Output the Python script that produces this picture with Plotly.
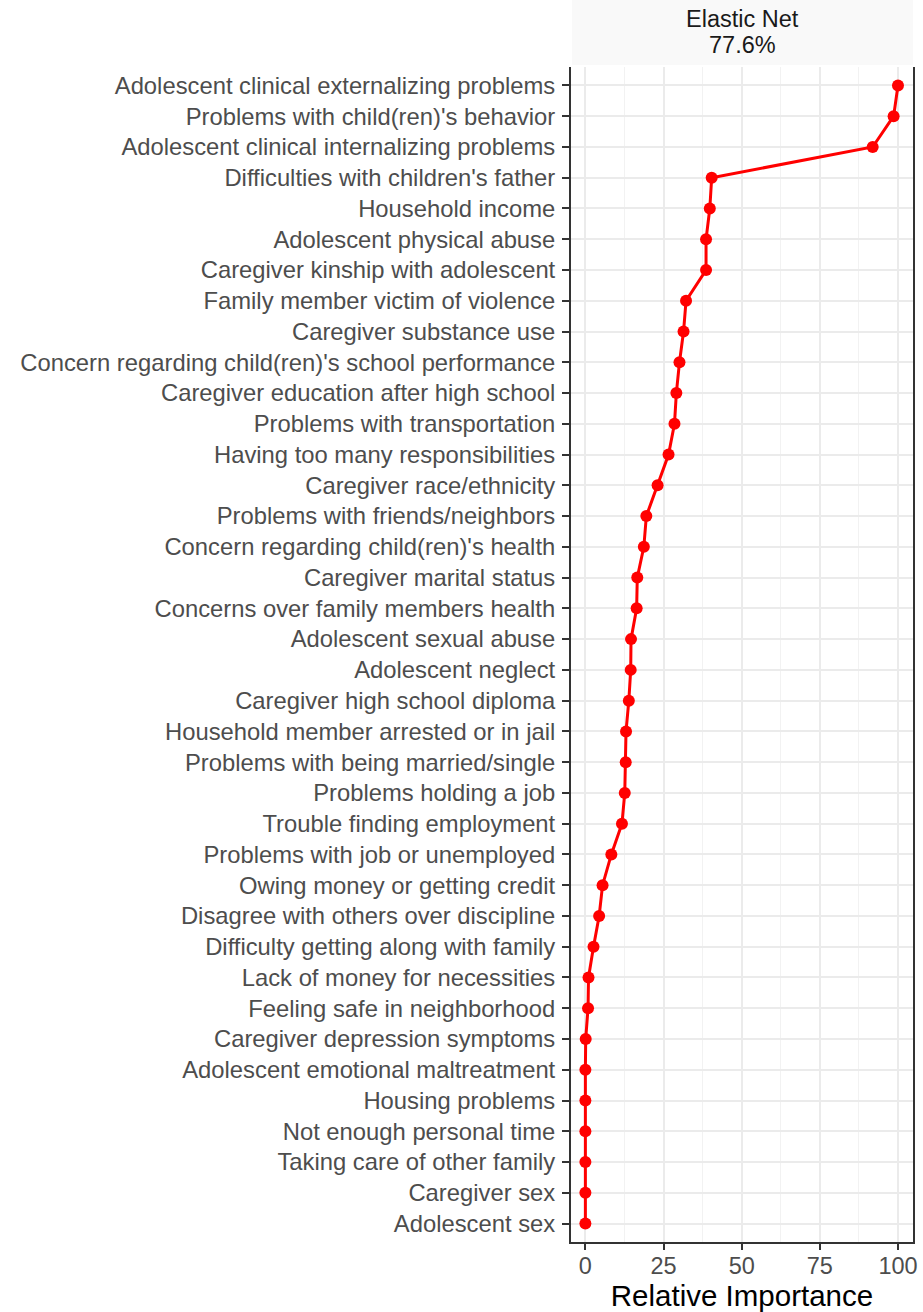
import plotly.graph_objects as go

features = [
    "Adolescent clinical externalizing problems",
    "Problems with child(ren)'s behavior",
    "Adolescent clinical internalizing problems",
    "Difficulties with children's father",
    "Household income",
    "Adolescent physical abuse",
    "Caregiver kinship with adolescent",
    "Family member victim of violence",
    "Caregiver substance use",
    "Concern regarding child(ren)'s school performance",
    "Caregiver education after high school",
    "Problems with transportation",
    "Having too many responsibilities",
    "Caregiver race/ethnicity",
    "Problems with friends/neighbors",
    "Concern regarding child(ren)'s health",
    "Caregiver marital status",
    "Concerns over family members health",
    "Adolescent sexual abuse",
    "Adolescent neglect",
    "Caregiver high school diploma",
    "Household member arrested or in jail",
    "Problems with being married/single",
    "Problems holding a job",
    "Trouble finding employment",
    "Problems with job or unemployed",
    "Owing money or getting credit",
    "Disagree with others over discipline",
    "Difficulty getting along with family",
    "Lack of money for necessities",
    "Feeling safe in neighborhood",
    "Caregiver depression symptoms",
    "Adolescent emotional maltreatment",
    "Housing problems",
    "Not enough personal time",
    "Taking care of other family",
    "Caregiver sex",
    "Adolescent sex",
]

importance = [
    100.0, 98.6, 91.9, 40.4, 39.8, 38.6, 38.6, 32.2, 31.4, 30.1,
    29.1, 28.5, 26.6, 23.1, 19.5, 18.7, 16.6, 16.4, 14.6, 14.5,
    13.9, 13.0, 12.9, 12.6, 11.7, 8.3, 5.5, 4.4, 2.6, 1.0,
    0.85, 0.1, 0.0, 0.0, 0.0, 0.0, 0.0, 0.0,
]

panel_title_1 = "Elastic Net"
panel_title_2 = "77.6%"
x_ticks = [0, 25, 50, 75, 100]
x_title = "Relative Importance"

W, H = 923, 1312
ml, mr, mt, mb = 571, 10, 67, 70
ph = H - mt - mb

fig = go.Figure()
fig.add_trace(go.Scatter(
    x=importance, y=features, mode="lines+markers",
    line=dict(color="#ff0000", width=3),
    marker=dict(color="#ff0000", size=12),
    showlegend=False, hoverinfo="x+y",
))

fig.update_layout(
    width=W, height=H,
    margin=dict(l=ml, r=mr, t=mt, b=mb, autoexpand=False),
    paper_bgcolor="white", plot_bgcolor="white",
    font=dict(family="Liberation Sans, Arial, sans-serif"),
    xaxis=dict(
        automargin=False,
        range=[-4.6, 104.8], tickvals=x_ticks, ticktext=[str(v) for v in x_ticks],
        showgrid=True, gridcolor="#ebebeb", gridwidth=2,
        minor=dict(dtick=12.5, tick0=0, showgrid=True, gridcolor="#f2f2f2", gridwidth=1),
        showline=True, linecolor="#333333", linewidth=2,
        ticks="outside", ticklen=6, tickwidth=2, tickcolor="#333333",
        ticklabelstandoff=-4,
        tickfont=dict(size=23.5, color="#4d4d4d"),
        title=dict(text=x_title, font=dict(size=29.5, color="#000000"), standoff=6),
        zeroline=False,
    ),
    yaxis=dict(
        automargin=False,
        categoryorder="array", categoryarray=features,
        range=[len(features) - 1 + 0.6, -0.6],
        showgrid=True, gridcolor="#ebebeb", gridwidth=2,
        showline=True, linecolor="#333333", linewidth=2, mirror=True,
        ticks="outside", ticklen=7, tickwidth=2, tickcolor="#333333",
        ticklabelstandoff=2,
        tickfont=dict(size=23.8, color="#4d4d4d"),
        zeroline=False,
    ),
    shapes=[dict(
        type="rect", xref="paper", yref="paper",
        x0=0.003, x1=1.0, y0=1 + 2 / ph, y1=1 + mt / ph,
        fillcolor="#f9f9f9", line=dict(width=0), layer="below",
    )],
    annotations=[
        dict(text=panel_title_1, xref="paper", yref="paper",
             x=0.5, y=1 + (mt - 19) / ph, xanchor="center", yanchor="middle",
             showarrow=False, font=dict(size=23.5, color="#1a1a1a")),
        dict(text=panel_title_2, xref="paper", yref="paper",
             x=0.5, y=1 + (mt - 45) / ph, xanchor="center", yanchor="middle",
             showarrow=False, font=dict(size=23.5, color="#1a1a1a")),
    ],
)

fig.write_html("out.html", config={"displayModeBar": False},
               post_script="document.body.style.margin='0px';")
